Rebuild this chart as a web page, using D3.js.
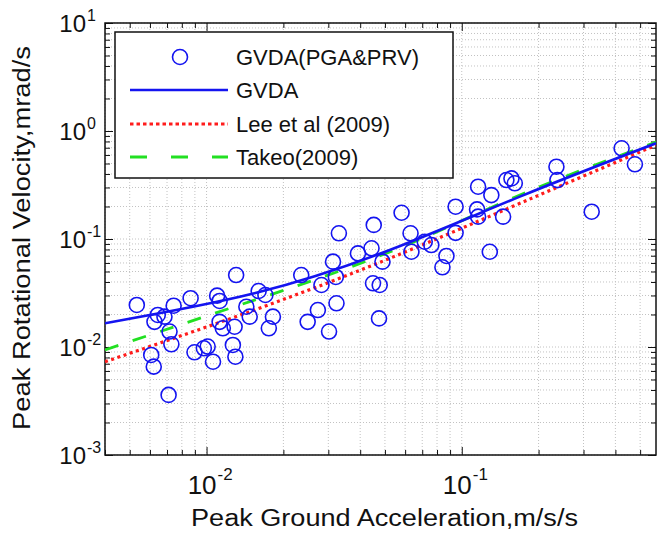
<!DOCTYPE html>
<html>
<head>
<meta charset="utf-8">
<script src="https://cdn.jsdelivr.net/npm/d3@7"></script>
<style>
  body { margin: 0; background: #fff; }
  text { font-family: Arial, "Liberation Sans", Helvetica, sans-serif; fill: #111; }
</style>
</head>
<body>
<script>
// observed peak ground acceleration (m/s/s) and peak rotational velocity (mrad/s)
const pga = [0.00533, 0.00644, 0.00684, 0.00625, 0.00743, 0.00866, 0.0110, 0.01125, 0.01306, 0.01432,
  0.01476, 0.01125, 0.01158, 0.01288, 0.00716, 0.00728, 0.00607, 0.00621, 0.00897, 0.00976,
  0.0101, 0.0106, 0.01268, 0.01297, 0.0071, 0.0160, 0.0170, 0.0182, 0.01754, 0.0235,
  0.0282, 0.0313, 0.0330, 0.0452, 0.0392, 0.0443, 0.0273, 0.0323, 0.0249, 0.0302,
  0.0449, 0.0477, 0.0474, 0.0321, 0.1159, 0.1306, 0.1496, 0.1566, 0.1614, 0.0946,
  0.1148, 0.1159, 0.1452, 0.0581, 0.0630, 0.0946, 0.0489, 0.0635, 0.0716, 0.0760,
  0.0871, 0.0840, 0.1288, 0.235, 0.237, 0.423, 0.477, 0.323];
const prv = [0.0245, 0.0198, 0.0191, 0.0171, 0.0241, 0.0283, 0.0299, 0.0267, 0.0464, 0.0236,
  0.0191, 0.0171, 0.0149, 0.0154, 0.0139, 0.0106, 0.00844, 0.00658, 0.00893, 0.00973,
  0.0101, 0.00731, 0.01044, 0.00813, 0.0036, 0.0330, 0.0303, 0.0191, 0.0149, 0.0464,
  0.0375, 0.0617, 0.113, 0.135, 0.0736, 0.082, 0.0220, 0.0254, 0.0171, 0.0139,
  0.0389, 0.0375, 0.0184, 0.0445, 0.305, 0.255, 0.3515, 0.364, 0.328, 0.199,
  0.188, 0.161, 0.161, 0.175, 0.113, 0.114, 0.0617, 0.0762, 0.0944, 0.0879,
  0.0697, 0.0547, 0.0762, 0.467, 0.351, 0.692, 0.492, 0.179];

// relations
const fitPga = [0.004, 0.0154, 0.0522, 0.169, 0.577];
const fitGvda = [0.0166, 0.0314, 0.0791, 0.247, 0.77];
const fitLee = [0.0073, 0.022, 0.0662, 0.214, 0.74];
const fitTakeo = [0.0094, 0.0272, 0.0759, 0.255, 0.79];

const xTickExp = [-2, -1];
const yTickExp = [1, 0, -1, -2, -3];
const legendNames = ["GVDA(PGA&PRV)", "GVDA", "Lee et al (2009)", "Takeo(2009)"];

const width = 662, height = 534;
const pL = 105, pR = 656, pT = 23, pB = 455;

const svg = d3.select('body').append('svg')
  .attr('width', width).attr('height', height);

const x = d3.scaleLog().domain([0.004, 0.577]).range([pL, pR]);
const y = d3.scaleLog().domain([0.001, 10]).range([pB, pT]);

const blue = '#1414f0', red = '#ff1c1c', green = '#22e022';

// grid
const grid = svg.append('g').attr('stroke', '#c2c2c2').attr('stroke-width', 1)
  .attr('stroke-dasharray', '1,2');
grid.selectAll('.gx').data(x.ticks()).join('line').attr('class', 'gx')
  .attr('x1', d => x(d)).attr('x2', d => x(d)).attr('y1', pT).attr('y2', pB);
grid.selectAll('.gy').data(y.ticks()).join('line').attr('class', 'gy')
  .attr('y1', d => y(d)).attr('y2', d => y(d)).attr('x1', pL).attr('x2', pR);

// ticks, inside on all four sides
const majorX = xTickExp.map(e => Math.pow(10, e));
const majorY = yTickExp.map(e => Math.pow(10, e));
const minorX = x.ticks().filter(d => !majorX.some(m => Math.abs(m - d) / m < 1e-9));
const minorY = y.ticks().filter(d => !majorY.some(m => Math.abs(m - d) / m < 1e-9));

function addAxis(axisFn, scale, vals, size, transform) {
  const g = svg.append('g').attr('transform', transform)
    .call(axisFn(scale).tickValues(vals).tickSize(-size).tickFormat(''));
  g.select('.domain').remove();
  g.selectAll('line').attr('stroke', '#111').attr('stroke-width', 1);
}
addAxis(d3.axisBottom, x, majorX, 8, `translate(0,${pB})`);
addAxis(d3.axisBottom, x, minorX, 5, `translate(0,${pB})`);
addAxis(d3.axisTop, x, majorX, 8, `translate(0,${pT})`);
addAxis(d3.axisTop, x, minorX, 5, `translate(0,${pT})`);
addAxis(d3.axisLeft, y, majorY, 8, `translate(${pL},0)`);
addAxis(d3.axisLeft, y, minorY, 5, `translate(${pL},0)`);
addAxis(d3.axisRight, y, majorY, 8, `translate(${pR},0)`);
addAxis(d3.axisRight, y, minorY, 5, `translate(${pR},0)`);

// frame
svg.append('rect').attr('x', pL).attr('y', pT)
  .attr('width', pR - pL).attr('height', pB - pT)
  .attr('fill', 'none').attr('stroke', '#111').attr('stroke-width', 1.5);

// tick labels
const yl = svg.append('g').selectAll('g').data(yTickExp).join('g');
yl.append('text').attr('x', 86).attr('y', d => y(Math.pow(10, d)) + 9)
  .attr('text-anchor', 'end').attr('font-size', 24).text('10');
yl.append('text').attr('x', 87).attr('y', d => y(Math.pow(10, d)) - 2)
  .attr('font-size', 16).text(d => d < 0 ? '-' + (-d) : String(d));

const xl = svg.append('g').selectAll('g').data(xTickExp).join('g');
xl.append('text').attr('x', d => x(Math.pow(10, d)) + 10).attr('y', pB + 39)
  .attr('text-anchor', 'end').attr('font-size', 26).text('10');
xl.append('text').attr('x', d => x(Math.pow(10, d)) + 11).attr('y', pB + 25)
  .attr('font-size', 17).text(d => '-' + (-d));

// axis titles
svg.append('text').attr('x', 191).attr('y', 526).attr('font-size', 23)
  .attr('textLength', 387).attr('lengthAdjust', 'spacingAndGlyphs')
  .text('Peak Ground Acceleration,m/s/s');
svg.append('text').attr('transform', 'translate(30,430) rotate(-90)')
  .attr('font-size', 23).attr('textLength', 384).attr('lengthAdjust', 'spacingAndGlyphs')
  .text('Peak Rotational Velocity,mrad/s');

// plot contents
svg.append('clipPath').attr('id', 'plotclip').append('rect')
  .attr('x', pL).attr('y', pT).attr('width', pR - pL).attr('height', pB - pT);
const plot = svg.append('g').attr('clip-path', 'url(#plotclip)');

const line = d3.line().x(d => x(d[0])).y(d => y(d[1])).curve(d3.curveNatural);
const fits = [
  { vals: fitTakeo, color: green, dash: '14,15', w: 2.8 },
  { vals: fitLee, color: red, dash: '3,3.5', w: 3.2 },
  { vals: fitGvda, color: blue, dash: null, w: 2.6 }
];
plot.selectAll('path.fit').data(fits).join('path')
  .attr('class', 'fit')
  .attr('d', f => line(d3.zip(fitPga, f.vals)))
  .attr('fill', 'none').attr('stroke', f => f.color)
  .attr('stroke-width', f => f.w).attr('stroke-dasharray', f => f.dash);

plot.selectAll('circle').data(d3.zip(pga, prv)).join('circle')
  .attr('cx', d => x(d[0])).attr('cy', d => y(d[1])).attr('r', 7.5)
  .attr('fill', 'none').attr('stroke', blue).attr('stroke-width', 1.6);

// legend
const leg = svg.append('g');
leg.append('rect').attr('x', 115).attr('y', 32).attr('width', 338).attr('height', 146)
  .attr('fill', '#fff').attr('stroke', '#111').attr('stroke-width', 1.5);
const rowY = [57, 90, 124, 157];
leg.append('circle').attr('cx', 180).attr('cy', rowY[0]).attr('r', 7.5)
  .attr('fill', 'none').attr('stroke', blue).attr('stroke-width', 1.6);
const legLines = [
  { color: blue, dash: null, w: 2.6 },
  { color: red, dash: '3.5,3', w: 3.2 },
  { color: green, dash: '17,24', w: 2.8 }
];
leg.selectAll('line').data(legLines).join('line')
  .attr('x1', 130).attr('x2', 228)
  .attr('y1', (d, i) => rowY[i + 1]).attr('y2', (d, i) => rowY[i + 1])
  .attr('stroke', d => d.color).attr('stroke-width', d => d.w)
  .attr('stroke-dasharray', d => d.dash);
leg.selectAll('text').data(legendNames).join('text')
  .attr('x', 236).attr('y', (d, i) => rowY[i] + 8)
  .attr('font-size', 22).text(d => d);
</script>
</body>
</html>
